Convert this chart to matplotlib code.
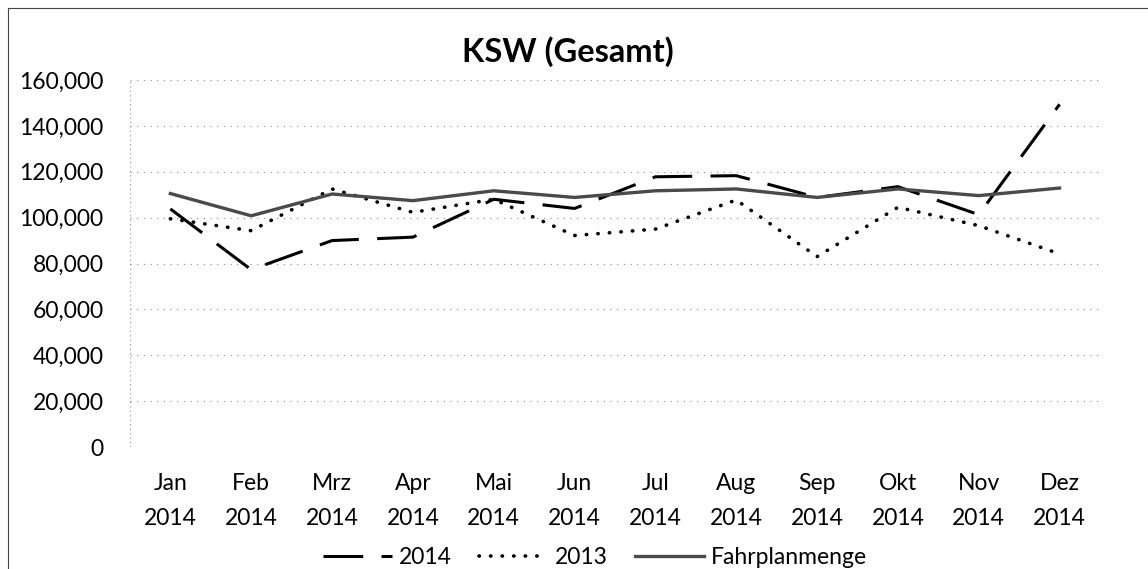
import matplotlib.pyplot as plt
from matplotlib.lines import Line2D
from matplotlib.ticker import FuncFormatter

plt.rcParams['font.family'] = ['Lato', 'DejaVu Sans']

monate = ['Jan', 'Feb', 'Mrz', 'Apr', 'Mai', 'Jun', 'Jul', 'Aug', 'Sep', 'Okt', 'Nov', 'Dez']
jahr = '2014'

ist_2014 = [103800, 77300, 90000, 91500, 108000, 104000, 117800, 118300, 108800, 113500, 101300, 149400]
ist_2013 = [99500, 94300, 112500, 102300, 108000, 92200, 95000, 107700, 83000, 104500, 96500, 84200]
fahrplan = [110500, 100800, 110300, 107400, 111700, 108800, 111700, 112500, 108800, 112500, 109600, 112900]

fig = plt.figure(figsize=(11.48, 5.69), dpi=100)
ax = fig.add_axes([0.1132, 0.2144, 0.845, 0.645])

x = list(range(len(monate)))

ax.plot(x, ist_2014, color='black', lw=2.2, dashes=(13, 6), label='2014')
ax.plot(x, ist_2013, color='black', lw=2.6, linestyle=(0, (0.1, 3.1)),
        dash_capstyle='round', label='2013')
ax.plot(x, fahrplan, color='#4a4a4a', lw=2.4, label='Fahrplanmenge')

ax.set_xlim(-0.5, len(monate) - 0.5)
ax.set_ylim(0, 160000)
ax.set_yticks(range(0, 160001, 20000))
ax.yaxis.set_major_formatter(FuncFormatter(lambda v, p: '{:,.0f}'.format(v)))
ax.set_xticks(x)
ax.set_xticklabels([m + '\n' + jahr for m in monate], linespacing=1.82)

# gepunktete Gitterlinien wie im Excel-Diagramm
ax.grid(axis='y', color='#8a8a8a', linestyle=(0, (1, 5)), lw=0.8)
for s in ax.spines.values():
    s.set_visible(False)
ax.axvline(-0.5, color='#8a8a8a', linestyle=(0, (1, 3)), lw=0.8)
ax.tick_params(axis='both', length=0, labelsize=16.5, colors='black')
ax.tick_params(axis='y', pad=19)
ax.tick_params(axis='x', pad=19)

fig.text(0.495, 1 - 52 / 569, 'KSW (Gesamt)', ha='center', va='center',
         fontsize=23.5, fontweight='bold')

fig.legend(loc='center', bbox_to_anchor=(0.518, 1 - 558 / 569), ncol=3,
           frameon=False, fontsize=16.5, handlelength=3.0, handletextpad=0.3,
           columnspacing=1.2)

# Rahmen oben und links
fig.add_artist(Line2D([0.007, 0.007], [0, 0.986], color='#444444', lw=0.8))
fig.add_artist(Line2D([0.007, 1.0], [0.986, 0.986], color='#444444', lw=0.8))

fig.savefig('out.png', dpi=100)
